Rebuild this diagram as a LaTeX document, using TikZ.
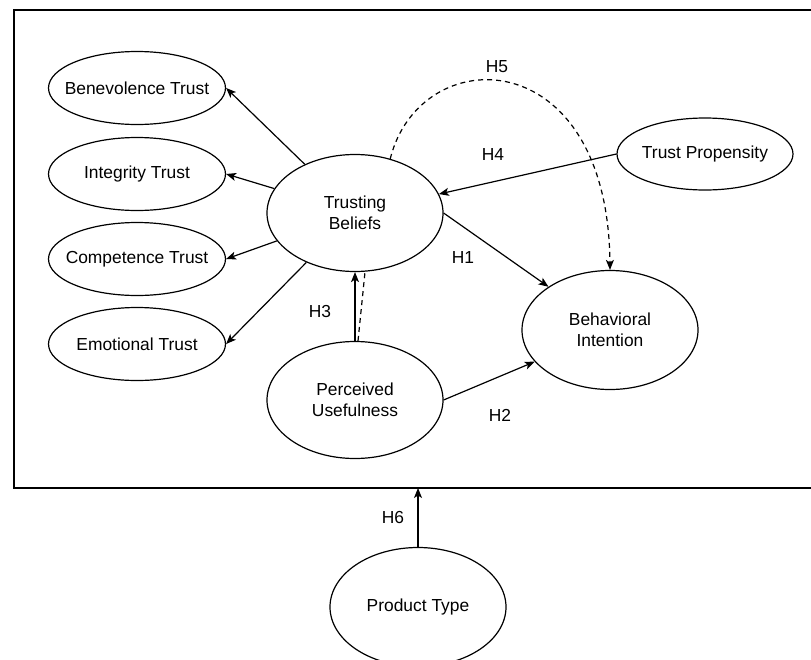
\documentclass[tikz,border=0pt]{standalone}
\usepackage{fontspec}
\setmainfont{Liberation Sans}
\usetikzlibrary{shapes.geometric,arrows.meta}
\begin{document}
\begin{tikzpicture}[x=1pt,y=-1pt,
  every node/.style={font=\fontsize{17.4}{20.5}\selectfont},
  oval/.style={ellipse, draw, line width=1.2pt, inner sep=0pt, minimum width=177pt, minimum height=73pt, align=center, fill=white},
  big/.style={oval, minimum width=176pt, minimum height=117pt},
  arr/.style={line width=1.2pt, -{Stealth[length=10pt,width=8pt,inset=2.5pt]}},
  dsh/.style={dash pattern=on 5pt off 4pt},
  lbl/.style={inner sep=0pt}]
\useasboundingbox (0,0) rectangle (811,659);
\clip (0,0) rectangle (811,659);
\fill[white] (0,0) rectangle (811,659);
% frame
\draw[line width=1.5pt] (14,10) rectangle (830,488);
\coordinate (fb) at (418,488);
% nodes
\node[oval] (ben) at (137,88) {\makebox[0pt]{Benevolence Trust}};
\node[oval] (int) at (137,174) {\makebox[0pt]{Integrity Trust}};
\node[oval] (com) at (137,259) {\makebox[0pt]{Competence Trust}};
\node[oval] (emo) at (137,344) {\makebox[0pt]{Emotional Trust}};
\node[big] (tb) at (355,213) {Trusting\\Beliefs};
\node[big] (pu) at (355,400) {Perceived\\Usefulness};
\node[oval, minimum width=176pt, minimum height=72pt] (tp) at (705,154) {\makebox[0pt]{Trust Propensity}};
\node[big, minimum height=119pt] (bi) at (610,330) {Behavioral\\Intention};
\node[big, minimum height=119pt] (pt) at (418,607) {\makebox[0pt]{Product Type}};
% edges
\draw[arr] (tb) -- (ben.east);
\draw[arr] (tb) -- (int.east);
\draw[arr] (tb) -- (com.east);
\draw[arr] (tb) -- (emo.east);
\draw[arr] (tp.west) -- (tb);
\draw[arr] (tb.east) -- (bi);
\draw[arr] (pu.east) -- (bi);
\draw[arr] (pu.north) -- (tb.south);
\draw[dsh, line width=1.2pt] ([xshift=3pt]pu.north) -- ([xshift=10pt]tb.south);
\draw[arr, dsh] (tb.57) .. controls (420,40) and (608,40) .. (bi.north);
\draw[arr] (pt.north) -- (fb);
% labels
\node[lbl] (h5) at (497,67) {H5};
\node[lbl] (h4) at (493,155) {H4};
\node[lbl] (h1) at (463,258) {H1};
\node[lbl] (h3) at (320,312) {H3};
\node[lbl] (h2) at (500,415) {H2};
\node[lbl] (h6) at (393,518) {H6};
\end{tikzpicture}
\end{document}
